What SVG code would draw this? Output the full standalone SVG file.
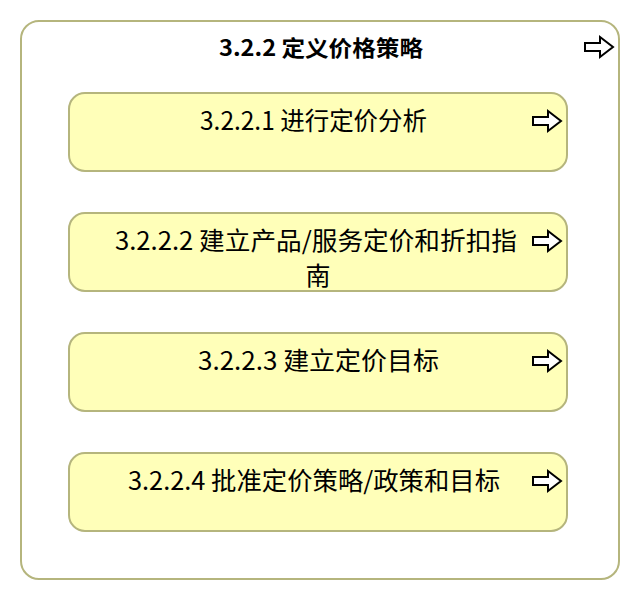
<svg xmlns="http://www.w3.org/2000/svg" width="640" height="600" viewBox="0 0 640 600">
<style>
.outer{fill:#ffffff;stroke:#b5b57d;stroke-width:2}
.box{fill:#ffffb9;stroke:#b5b57d;stroke-width:2}
.t{font-family:"Noto Sans CJK SC","Noto Sans",sans-serif;font-size:25px;fill:#000}
.title{font-family:"Noto Sans CJK SC","Noto Sans",sans-serif;font-size:22px;font-weight:bold;fill:#000}
.arr{fill:#fff;stroke:#000;stroke-width:2;stroke-linejoin:miter}
</style>
<defs>
<path id="arrow" class="arr" d="M0,6 L15,6 L15,0 L28,10 L15,20 L15,14 L0,14 Z"/>
</defs>
<g id="node-322">
<rect class="outer" x="21" y="21" width="598" height="558" rx="18" ry="18"/>
<text class="title" x="219" y="56" textLength="204" lengthAdjust="spacingAndGlyphs">3.2.2 定义价格策略</text>
<use href="#arrow" x="585" y="37"/>
</g>
<g id="node-3221">
<rect class="box" x="69" y="93" width="498" height="78" rx="16" ry="16"/>
<text class="t" x="200" y="130" textLength="227" lengthAdjust="spacingAndGlyphs">3.2.2.1 进行定价分析</text>
<use href="#arrow" x="533" y="111"/>
</g>
<g id="node-3222">
<rect class="box" x="69" y="213" width="498" height="78" rx="16" ry="16"/>
<text class="t" x="115" y="250" textLength="402" lengthAdjust="spacingAndGlyphs">3.2.2.2 建立产品/服务定价和折扣指</text>
<text class="t" x="318" y="285" text-anchor="middle">南</text>
<use href="#arrow" x="533" y="231"/>
</g>
<g id="node-3223">
<rect class="box" x="69" y="333" width="498" height="78" rx="16" ry="16"/>
<text class="t" x="198" y="370" textLength="241" lengthAdjust="spacingAndGlyphs">3.2.2.3 建立定价目标</text>
<use href="#arrow" x="533" y="351"/>
</g>
<g id="node-3224">
<rect class="box" x="69" y="453" width="498" height="78" rx="16" ry="16"/>
<text class="t" x="128" y="490" textLength="372" lengthAdjust="spacingAndGlyphs">3.2.2.4 批准定价策略/政策和目标</text>
<use href="#arrow" x="533" y="471"/>
</g>
<g id="connectors"></g>
</svg>
